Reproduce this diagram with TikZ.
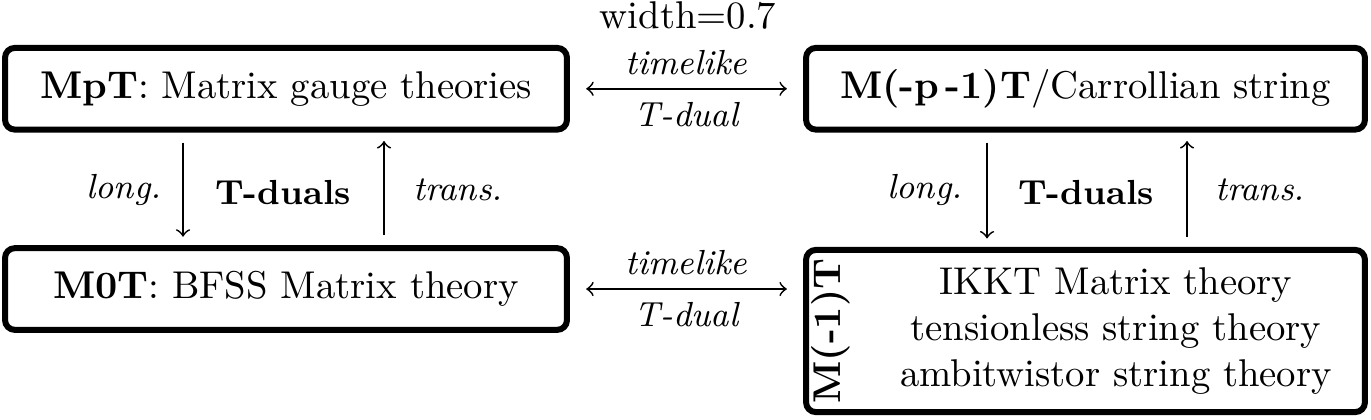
\documentclass[tikz,border=0pt]{standalone}
\usepackage{graphicx}
\begin{document}
\begin{tikzpicture}[x=0.2584pt,y=-0.2584pt,
  thbox/.style={draw,line width=1.55pt,rounded corners=2.5pt,inner sep=0pt,minimum height=21.1pt},
  arr/.style={->,line width=0.45pt},
  darr/.style={<->,line width=0.45pt,shorten <=4.2pt,shorten >=4.2pt},
  lab/.style={font=\small\itshape,inner sep=0pt},
  blab/.style={font=\small\bfseries,inner sep=0pt},
  toplab/.style={font=\small\itshape,above=3.3pt,inner sep=0pt},
  botlab/.style={font=\small\itshape,below=3.3pt,inner sep=0pt}]
\useasboundingbox (0,0) rectangle (1371,419);
\node[anchor=base] (w) at (688,28) {width=0.7};
\node[thbox,minimum width=145.2pt] (MpT) at (286,88.75) {\textbf{MpT}: Matrix gauge theories};
\node[thbox,minimum width=144.4pt] (Mp1) at (1085.5,88.75) {\textbf{M(-p\,-1)T}/Carrollian string};
\node[thbox,minimum width=145.2pt] (M0T) at (286,289) {\textbf{M0T}: BFSS Matrix theory};
\node[thbox,minimum width=144.4pt,minimum height=41.9pt] (Mm1) at (1085.5,331) {};
\node[rotate=90,inner sep=0pt] (Mm1lab) at (831,331) {\textbf{M(-1)T}};
\node[align=center,inner sep=0pt] (Mm1txt) at (1116,331) {IKKT Matrix theory\\tensionless string theory\\ambitwistor string theory};
% horizontal T-duals
\draw[darr] (MpT.east) -- (Mp1.west)
  node[midway,toplab] (t1) {timelike} node[midway,botlab] (d1) {T-dual};
\draw[darr] (M0T.east) -- (M0T.east -| Mm1.west)
  node[midway,toplab] (t2) {timelike} node[midway,botlab] (d2) {T-dual};
% vertical arrows
\coordinate (xl1) at (183,0);
\coordinate (xl2) at (384,0);
\coordinate (xr1) at (987,0);
\coordinate (xr2) at (1187,0);
\draw[arr,shorten <=2.6pt,shorten >=2.2pt] (MpT.south -| xl1) -- (M0T.north -| xl1);
\draw[arr,shorten <=2.6pt,shorten >=2.2pt] (M0T.north -| xl2) -- (MpT.south -| xl2);
\draw[arr,shorten <=2.6pt,shorten >=2.2pt] (Mp1.south -| xr1) -- (Mm1.north -| xr1);
\draw[arr,shorten <=2.6pt,shorten >=2.2pt] (Mm1.north -| xr2) -- (Mp1.south -| xr2);
\node[lab] (l1) at (124,190) {long.};
\node[blab] (td1) at (283,193) {T-duals};
\node[lab] (tr1) at (458,190) {trans.};
\node[lab] (l2) at (925,190) {long.};
\node[blab] (td2) at (1086,193) {T-duals};
\node[lab] (tr2) at (1260,190) {trans.};
\end{tikzpicture}
\end{document}
